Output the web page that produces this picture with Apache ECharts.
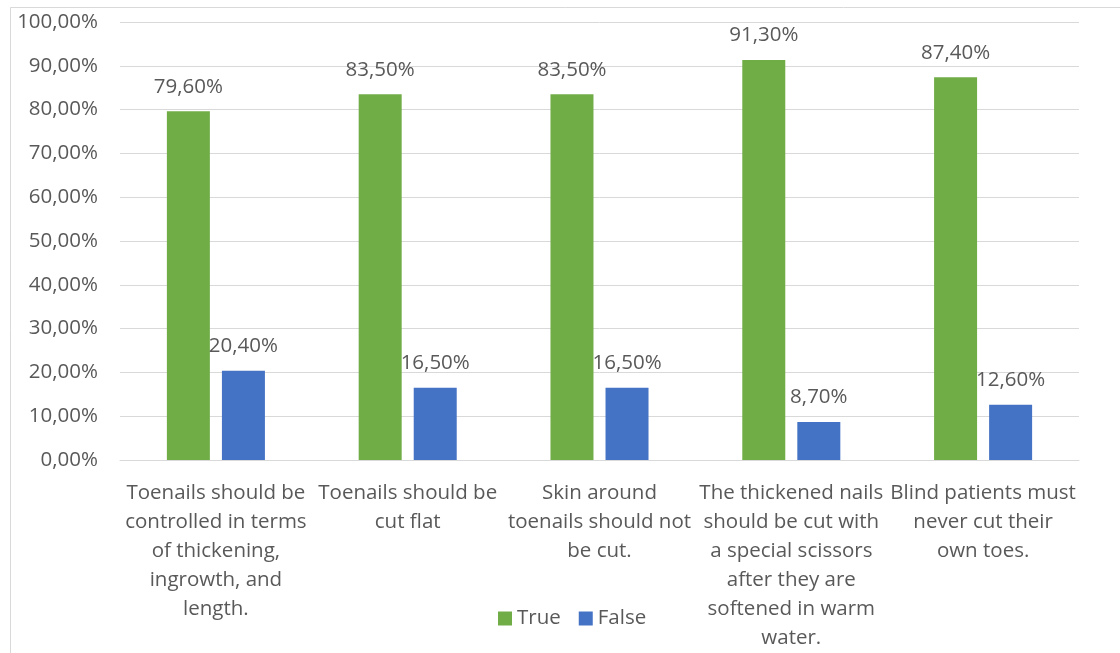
<!DOCTYPE html>
<html>
<head>
<meta charset="utf-8">
<script src="https://cdn.jsdelivr.net/npm/echarts@6/dist/echarts.min.js"></script>
<style>
  html, body { margin: 0; padding: 0; background: #fff; }
  #chart { width: 1120px; height: 653px; }
</style>
</head>
<body>
<div id="chart"></div>
<script>
// Statements about toenail care, with the share answering True / False
const categories = [
  'Toenails should be\ncontrolled in terms\nof thickening,\ningrowth, and\nlength.',
  'Toenails should be\ncut flat',
  'Skin around\ntoenails should not\nbe cut.',
  'The thickened nails\nshould be cut with\na special scissors\nafter they are\nsoftened in warm\nwater.',
  'Blind patients must\nnever cut their\nown toes.'
];
const trueValues = [79.6, 83.5, 83.5, 91.3, 87.4];
const falseValues = [20.4, 16.5, 16.5, 8.7, 12.6];
const yTicks = [0, 10, 20, 30, 40, 50, 60, 70, 80, 90, 100];

const FONT = '"Open Sans", "Noto Sans", sans-serif';
const TEXT = '#595959';
const SIZE = 20.5;
const pct = v => v.toFixed(2).replace('.', ',') + '%';

const chart = echarts.init(document.getElementById('chart'));
chart.setOption({
  backgroundColor: '#fff',
  animation: false,
  textStyle: { fontFamily: FONT },
  graphic: [{
    type: 'rect',
    shape: { x: 10.5, y: 7.5, width: 1120, height: 660 },
    style: { fill: 'none', stroke: '#d9d9d9', lineWidth: 1 },
    silent: true
  }],
  grid: { left: 120, right: 41, top: 22, bottom: 193 },
  legend: {
    data: ['True', 'False'],
    bottom: 19,
    left: 493,
    itemWidth: 14,
    itemHeight: 14,
    itemGap: 18,
    icon: 'rect',
    textStyle: { color: TEXT, fontSize: SIZE, fontFamily: FONT }
  },
  xAxis: {
    type: 'category',
    data: categories,
    axisLine: { lineStyle: { color: '#d9d9d9', width: 1 } },
    axisTick: { show: false },
    axisLabel: {
      interval: 0,
      color: TEXT,
      fontSize: SIZE,
      lineHeight: 29,
      margin: 19,
      fontFamily: FONT
    }
  },
  yAxis: {
    type: 'value',
    min: 0,
    max: 100,
    interval: 10,
    axisLine: { show: false },
    axisTick: { show: false },
    splitLine: { lineStyle: { color: '#d9d9d9', width: 1 } },
    axisLabel: {
      color: TEXT,
      fontSize: SIZE,
      margin: 22,
      fontFamily: FONT,
      formatter: v => yTicks.includes(v) ? pct(v) : ''
    }
  },
  series: [
    {
      name: 'True',
      type: 'bar',
      data: trueValues,
      barWidth: 43,
      barGap: '28%',
      itemStyle: { color: '#70ad47' },
      label: {
        show: true,
        position: 'top',
        distance: 14,
        color: TEXT,
        fontSize: SIZE,
        fontFamily: FONT,
        formatter: p => pct(p.value)
      }
    },
    {
      name: 'False',
      type: 'bar',
      data: falseValues,
      barWidth: 43,
      itemStyle: { color: '#4472c4' },
      label: {
        show: true,
        position: 'top',
        distance: 14,
        color: TEXT,
        fontSize: SIZE,
        fontFamily: FONT,
        formatter: p => pct(p.value)
      }
    }
  ]
});
</script>
</body>
</html>
